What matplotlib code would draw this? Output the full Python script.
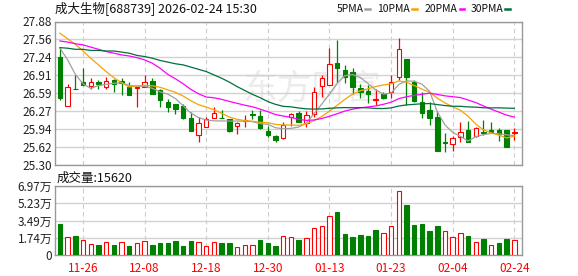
import numpy as np
import pandas as pd
import matplotlib
matplotlib.use("Agg")
import matplotlib.pyplot as plt
from matplotlib.lines import Line2D

plt.rcParams["font.family"] = ["Noto Sans CJK SC", "DejaVu Sans"]

dates = [
    "11-21", "11-24", "11-25", "11-26", "11-27", "11-28",
    "12-01", "12-02", "12-03", "12-04", "12-05", "12-08", "12-09", "12-10",
    "12-11", "12-12", "12-15", "12-16", "12-17", "12-18", "12-19", "12-22",
    "12-23", "12-24", "12-25", "12-26", "12-29", "12-30", "12-31",
    "01-05", "01-06", "01-07", "01-08", "01-09", "01-12", "01-13", "01-14",
    "01-15", "01-16", "01-19", "01-20", "01-21", "01-22", "01-23", "01-26",
    "01-27", "01-28", "01-29", "01-30", "02-02", "02-03", "02-04", "02-05",
    "02-06", "02-09", "02-10", "02-11", "02-12", "02-13", "02-24",
]

opens = [
    27.24, 26.36, 26.67, 26.79, 26.72, 26.79, 26.71, 26.83, 26.81, 26.71,
    26.69, 26.71, 26.81, 26.64, 26.43, 26.39, 26.36, 26.15, 25.84, 25.99,
    26.14, 26.15, 26.13, 26.00, 26.10, 26.21, 26.18, 25.91, 25.82, 25.79,
    26.17, 26.23, 26.06, 26.22, 26.72, 26.74, 27.13, 27.01, 26.97, 26.68,
    26.63, 26.47, 26.58, 26.61, 26.89, 27.21, 26.79, 26.43, 26.29, 26.16,
    25.71, 25.67, 25.81, 25.93, 25.82, 25.89, 25.93, 25.93, 25.93, 25.88,
]
highs = [
    27.41, 26.75, 26.92, 27.05, 26.86, 26.83, 26.88, 26.84, 26.87, 26.80,
    26.71, 26.92, 26.87, 26.67, 26.49, 26.39, 26.40, 26.25, 26.16, 26.16,
    26.34, 26.29, 26.13, 26.07, 26.20, 26.28, 26.28, 26.00, 25.84, 26.07,
    26.24, 26.27, 26.27, 26.71, 26.92, 27.40, 27.54, 27.10, 27.04, 26.76,
    26.74, 26.66, 26.61, 26.91, 27.59, 27.21, 26.83, 26.61, 26.44, 26.27,
    25.87, 25.82, 26.07, 26.09, 25.98, 26.11, 26.08, 25.97, 25.93, 25.97,
]
lows = [
    26.47, 26.36, 26.66, 26.73, 26.67, 26.66, 26.67, 26.62, 26.56, 26.55,
    26.35, 26.71, 26.57, 26.35, 26.26, 26.21, 26.12, 25.92, 25.72, 25.99,
    26.14, 26.14, 25.90, 25.86, 25.99, 26.13, 25.95, 25.80, 25.72, 25.77,
    26.01, 26.07, 25.99, 26.17, 26.52, 26.74, 26.80, 26.77, 26.58, 26.51,
    26.41, 26.38, 26.49, 26.50, 26.83, 26.38, 26.43, 26.14, 26.02, 25.56,
    25.53, 25.56, 25.72, 25.71, 25.80, 25.84, 25.87, 25.73, 25.63, 25.75,
]
closes = [
    26.50, 26.70, 26.66, 26.73, 26.79, 26.76, 26.81, 26.76, 26.77, 26.55,
    26.70, 26.79, 26.58, 26.46, 26.34, 26.30, 26.15, 25.92, 26.05, 26.12,
    26.23, 26.14, 25.91, 26.05, 26.11, 26.19, 25.96, 25.84, 25.75, 26.02,
    26.22, 26.08, 26.20, 26.61, 26.87, 27.11, 27.05, 26.89, 26.71, 26.61,
    26.57, 26.48, 26.50, 26.80, 27.39, 26.89, 26.45, 26.24, 26.15, 25.56,
    25.70, 25.78, 25.89, 25.72, 25.96, 25.88, 25.89, 25.85, 25.63, 25.89,
]
volumes = [
    31800, 17900, 19300, 14900, 11200, 10150, 13200, 10150, 13200, 9100,
    12200, 14200, 10150, 12200, 12200, 14200, 9100, 14200, 13200, 9100,
    13200, 12200, 12200, 7800, 10150, 10150, 15200, 12200, 9100, 19300,
    17900, 15200, 16900, 27100, 29100, 39200, 43600, 21300, 18300, 20300,
    19300, 25400, 22000, 29100, 64600, 50700, 30400, 31500, 24400, 29400,
    24000, 17900, 22000, 19300, 12900, 16200, 9800, 12200, 16200, 15620,
]

# moving-average values before the window is full (history not on screen)
ma5_head = [27.40, 27.19, 26.93, 26.76]
ma10_head = [27.67, 27.57, 27.47, 27.35, 27.22, 27.10, 26.98, 26.87, 26.78]
ma20_head = [27.53, 27.51, 27.48, 27.46, 27.42, 27.38, 27.34, 27.31, 27.28,
             27.26, 27.23, 27.19, 27.13, 27.04, 26.93, 26.85, 26.76, 26.66,
             26.58]
ma30_head = [27.41, 27.40, 27.38, 27.38, 27.36, 27.36, 27.35, 27.35, 27.33,
             27.31, 27.27, 27.25, 27.22, 27.18, 27.15, 27.12, 27.10, 27.06,
             27.02, 26.98, 26.92, 26.86, 26.79, 26.71, 26.64, 26.57, 26.51,
             26.44, 26.39]

price_ticks = [25.30, 25.6225, 25.945, 26.2675, 26.59, 26.9125, 27.235, 27.5575, 27.88]
price_labels = ["25.30", "25.62", "25.94", "26.27", "26.59", "26.91", "27.24", "27.56", "27.88"]
vol_ticks = [0, 17425, 34850, 52275, 69700]
vol_labels = ["0", "1.74万", "3.49万", "5.23万", "6.97万"]

title = "成大生物[688739] 2026-02-24 15:30"
UP = "#ff0000"
DOWN = "#008000"
ma_styles = [("5PMA", 5, ma5_head, "#a0a0a0"),
             ("10PMA", 10, ma10_head, "#f5a300"),
             ("20PMA", 20, ma20_head, "#ff00ff"),
             ("30PMA", 30, ma30_head, "#00703c")]

W, H = 578, 276


def px(x, y):
    return x / W, 1 - y / H


o = np.array(opens)
h = np.array(highs)
l = np.array(lows)
c = np.array(closes)
v = np.array(volumes)
x = np.arange(len(c))
close_s = pd.Series(c)

fig = plt.figure(figsize=(W / 100, H / 100), dpi=100)
ax = fig.add_axes([55 / W, 1 - 165 / H, 467 / W, 143.5 / H])
axv = fig.add_axes([55 / W, 1 - 255 / H, 467 / W, 69 / H])

tick_idx = list(range(3, len(x), 8))

for a in (ax, axv):
    a.set_xlim(-0.64, 60.0)
    a.set_xticks(tick_idx)
    a.set_axisbelow(True)
    a.grid(axis="y", color="#d2d2d2", linewidth=1.0)
    a.grid(axis="x", color="#cccccc", linewidth=0.8, linestyle=(0, (4, 3)))
    a.tick_params(length=0, labelsize=8.5, colors="#222222", pad=2)
    for s in a.spines.values():
        s.set_color("#999999")
        s.set_linewidth(1.0)

# watermark
ax.text(*px(312, 89), "东方财富", transform=fig.transFigure, fontsize=25,
        color="#ececec", ha="center", va="center", zorder=0)

# candles
rise = c >= o
ccol = np.where(rise, UP, DOWN)
ax.vlines(x, l, h, colors=ccol, linewidth=0.9, zorder=3)
body_bottom = np.minimum(o, c)
body_h = np.maximum(np.abs(c - o), 0.004)
ax.bar(x, body_h, width=0.58, bottom=body_bottom,
       color=np.where(rise, "white", DOWN), edgecolor=ccol,
       linewidth=0.8, zorder=4)

for name, n, head, col in ma_styles:
    ma = close_s.rolling(n).mean().to_numpy()
    ma[: n - 1] = head
    ax.plot(x, ma, color=col, linewidth=0.9, zorder=5)

ax.set_ylim(25.30, 27.88)
ax.set_yticks(price_ticks)
ax.set_yticklabels(price_labels)
ax.tick_params(axis="x", labelbottom=False)

# volume bars, colored against the previous close
vol_up = np.r_[False, c[1:] > c[:-1]]
vcol = np.where(vol_up, UP, DOWN)
axv.bar(x, v, width=0.58, color=np.where(vol_up, "white", DOWN),
        edgecolor=vcol, linewidth=0.8, zorder=3)
axv.set_ylim(0, 69700)
axv.set_yticks(vol_ticks)
axv.set_yticklabels(vol_labels)
axv.set_xticklabels([dates[i] for i in tick_idx], color=UP)
axv.tick_params(axis="x", pad=5, colors=UP)

# header texts
fig.text(*px(55, 8.5), title, fontsize=9, va="center", ha="left", color="#111111")
fig.text(*px(57, 178), "成交量:%d" % volumes[-1], fontsize=9, va="center",
         ha="left", color="#111111")

dash_x = [365.3, 412.3, 459.7, 505.3]
for (name, n, head, col), dx in zip(ma_styles, dash_x):
    fig.text(*px(dx - 2, 9), name, fontsize=7.5, va="center", ha="right",
             color="#111111")
    x0, y0 = px(dx, 9.3)
    x1, _ = px(dx + 4.5, 9.3)
    fig.add_artist(Line2D([x0, x1], [y0, y0], color=col, linewidth=1.8,
                          transform=fig.transFigure))

fig.savefig("out.png", dpi=100)
plt.close(fig)
